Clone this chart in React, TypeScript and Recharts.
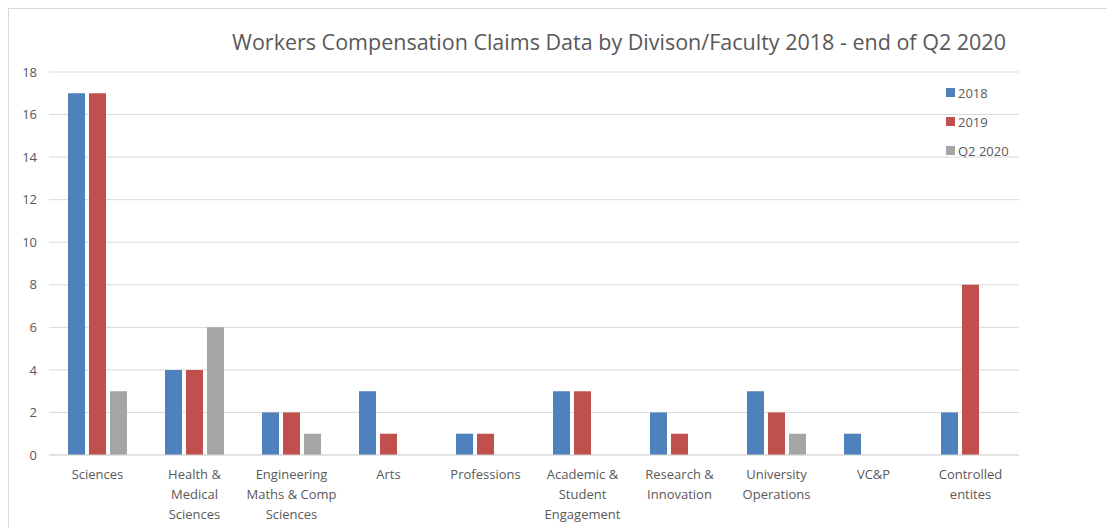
import React from "react";
import { BarChart, Bar, XAxis, YAxis, CartesianGrid } from "recharts";

const categories = [
  "Sciences",
  "Health &\nMedical\nSciences",
  "Engineering\nMaths & Comp\nSciences",
  "Arts",
  "Professions",
  "Academic &\nStudent\nEngagement",
  "Research &\nInnovation",
  "University\nOperations",
  "VC&P",
  "Controlled\nentites",
];
const values2018 = [17, 4, 2, 3, 1, 3, 2, 3, 1, 2];
const values2019 = [17, 4, 2, 1, 1, 3, 1, 2, 0, 8];
const valuesQ2_2020 = [3, 6, 1, 0, 0, 0, 0, 1, 0, 0];
const yTicks = [0, 2, 4, 6, 8, 10, 12, 14, 16, 18];
const seriesNames = ["2018", "2019", "Q2 2020"];
const seriesColors = ["#4f81bd", "#c0504d", "#a5a5a5"];
const title = "Workers Compensation Claims Data by Divison/Faculty 2018 - end of Q2 2020";

const data = categories.map((c, i) => ({
  name: c,
  s2018: values2018[i] || null,
  s2019: values2019[i] || null,
  sQ2: valuesQ2_2020[i] || null,
}));

const FONT = "'Open Sans', 'Noto Sans', sans-serif";
const TEXT = "#595959";

const XTick = (props: any) => {
  const { x, y, payload } = props;
  const lines = String(payload.value).split("\n");
  return (
    <g transform={`translate(${x},${y})`}>
      {lines.map((l: string, i: number) => (
        <text key={i} x={0} y={16 + i * 20} textAnchor="middle" fill={TEXT} fontSize={13} fontFamily={FONT}>
          {l}
        </text>
      ))}
    </g>
  );
};

export default function App() {
  return (
    <div
      style={{
        position: "relative",
        width: 1107,
        height: 520,
        borderLeft: "1px solid #d9d9d9",
        borderTop: "1px solid #d9d9d9",
        boxSizing: "border-box",
        overflow: "hidden",
        background: "#fff",
      }}
    >
      <div
        style={{
          position: "absolute",
          top: 18,
          left: 0,
          width: 1220,
          textAlign: "center",
          fontFamily: FONT,
          fontSize: 21.5,
          color: TEXT,
          whiteSpace: "nowrap",
        }}
      >
        {title}
      </div>
      <div style={{ position: "absolute", left: 937, top: 69, fontFamily: FONT, fontSize: 13, color: TEXT }}>
        {seriesNames.map((n, i) => (
          <div key={n} style={{ display: "flex", alignItems: "center", height: 29 }}>
            <span style={{ width: 9, height: 9, background: seriesColors[i], display: "inline-block", marginRight: 3 }} />
            <span>{n}</span>
          </div>
        ))}
      </div>
      <BarChart
        width={1106}
        height={519}
        data={data}
        margin={{ top: 63, right: 96, bottom: 13, left: 0 }}
        barSize={17}
        barGap={4}
      >
        <CartesianGrid vertical={false} stroke="#d9d9d9" />
        <XAxis
          dataKey="name"
          interval={0}
          tickLine={false}
          axisLine={{ stroke: "#d9d9d9" }}
          tick={<XTick />}
          height={60}
        />
        <YAxis
          domain={[0, 18]}
          ticks={yTicks}
          width={40}
          axisLine={false}
          tickLine={false}
          tick={{ fill: TEXT, fontSize: 13, fontFamily: FONT }}
          tickMargin={6}
        />
        <Bar dataKey="s2018" name="2018" fill={seriesColors[0]} isAnimationActive={false} />
        <Bar dataKey="s2019" name="2019" fill={seriesColors[1]} isAnimationActive={false} />
        <Bar dataKey="sQ2" name="Q2 2020" fill={seriesColors[2]} isAnimationActive={false} />
      </BarChart>
    </div>
  );
}
